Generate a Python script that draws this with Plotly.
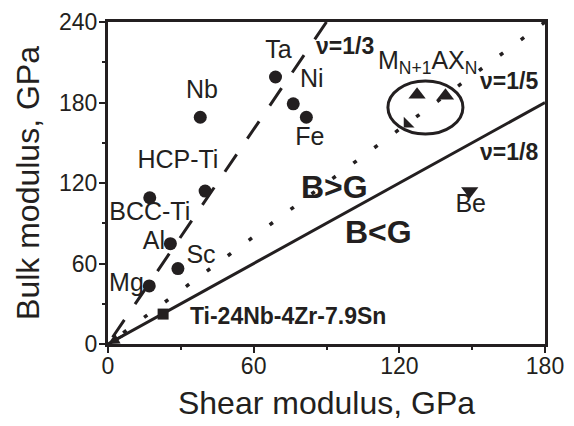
import plotly.graph_objects as go

# ---- data ----
elements = ["Mg", "Al", "Sc", "BCC-Ti", "HCP-Ti", "Nb", "Ta", "Ni", "Fe"]
shear_el = [17, 25.7, 28.8, 17.2, 40, 38, 69, 76.3, 81.7]
bulk_el = [43.3, 74.8, 56.2, 109, 114, 169, 199, 179, 169]

be_shear = [149]
be_bulk = [114]

alloy_name = "Ti-24Nb-4Zr-7.9Sn"
alloy_shear = [22.7]
alloy_bulk = [22.3]

max_shear = [127.3, 139, 123.3]
max_bulk = [185.7, 185, 164]

poisson = [1/3, 1/5, 1/8]
poisson_labels = ["ν=1/3", "ν=1/5", "ν=1/8"]

x_ticks = [0, 60, 120, 180]
y_ticks = [0, 60, 120, 180, 240]

# label anchor positions (data coords)
el_label_x = [7.6, 18.9, 38.3, 17.2, 28.8, 38.7, 70.2, 83.9, 83.1]
el_label_y = [44.4, 75.2, 64.9, 97.1, 136, 187.8, 218, 196.1, 152.8]

INK = "#231f20"
FONT = "Liberation Sans, Arial, sans-serif"
XMAX, YMAX = 180, 240

fig = go.Figure()

# Poisson-ratio lines B/G = 2(1+v)/(3(1-2v))
styles = [dict(dash="21px,19px", width=3), dict(dash="4px,22px", width=3.5), dict(dash="solid", width=3)]
for nu, st in zip(poisson, styles):
    r = 2 * (1 + nu) / (3 * (1 - 2 * nu))
    xe = min(XMAX, YMAX / r)
    fig.add_trace(go.Scatter(x=[xe, 0], y=[xe * r, 0], mode="lines",
                             line=dict(color=INK, width=st["width"], dash=st["dash"]),
                             hoverinfo="skip", showlegend=False))

# arrowhead at origin
fig.add_annotation(x=0, y=0, ax=7, ay=7, axref="x", ayref="y", xref="x", yref="y",
                   text="", showarrow=True, arrowhead=2, arrowsize=0.9, arrowwidth=2.5,
                   arrowcolor=INK, standoff=0)

# elements
fig.add_trace(go.Scatter(x=shear_el, y=bulk_el, mode="markers",
                         marker=dict(symbol="circle", size=13, color=INK),
                         showlegend=False))
fig.add_trace(go.Scatter(x=el_label_x, y=el_label_y, mode="text", text=elements,
                         textposition="middle center",
                         textfont=dict(family=FONT, size=25, color=INK),
                         hoverinfo="skip", showlegend=False))

# Be
fig.add_trace(go.Scatter(x=be_shear, y=be_bulk, mode="markers",
                         marker=dict(symbol="triangle-down", size=15, color=INK),
                         showlegend=False))
fig.add_trace(go.Scatter(x=[149.4], y=[103.3], mode="text", text=["Be"],
                         textfont=dict(family=FONT, size=25, color=INK),
                         hoverinfo="skip", showlegend=False))

# alloy
fig.add_trace(go.Scatter(x=alloy_shear, y=alloy_bulk, mode="markers",
                         marker=dict(symbol="square", size=11, color=INK),
                         showlegend=False))
fig.add_trace(go.Scatter(x=[74.2], y=[19.1], mode="text", text=["<b>" + alloy_name + "</b>"],
                         textfont=dict(family=FONT, size=23, color=INK),
                         hoverinfo="skip", showlegend=False))

# MAX phases
fig.add_trace(go.Scatter(x=max_shear[:2], y=max_bulk[:2], mode="markers",
                         marker=dict(symbol="triangle-up", size=15, color=INK),
                         showlegend=False))
fig.add_trace(go.Scatter(x=max_shear[2:], y=max_bulk[2:], mode="markers",
                         marker=dict(symbol="triangle-sw", size=12, color=INK),
                         showlegend=False))
fig.add_shape(type="circle", xref="x", yref="y", x0=115.3, x1=146.2, y0=156.5, y1=196,
              line=dict(color=INK, width=3))
fig.add_annotation(x=131.5, y=210, text="M<sub>N+1</sub>AX<sub>N</sub>", showarrow=False,
                   font=dict(family=FONT, size=25, color=INK), yanchor="middle")

# Poisson labels
for txt, px, py in zip(poisson_labels, [97.5, 165, 165], [221.9, 196, 143]):
    fig.add_annotation(x=px, y=py, text="<b>" + txt + "</b>", showarrow=False,
                       font=dict(family=FONT, size=23, color=INK))

fig.add_annotation(x=93.4, y=116.9, text="<b>B>G</b>", showarrow=False,
                   font=dict(family=FONT, size=32, color=INK))
fig.add_annotation(x=111.5, y=83.7, text="<b>B<G</b>", showarrow=False,
                   font=dict(family=FONT, size=32, color=INK))

axis_common = dict(showline=True, linewidth=3, linecolor=INK, mirror=True,
                   showgrid=False, zeroline=False, ticks="outside", ticklen=6,
                   tickwidth=2, tickcolor=INK,
                   tickfont=dict(family=FONT, size=23, color=INK),
                   minor=dict(ticks="outside", ticklen=3, tickwidth=2, tickcolor=INK, dtick=30))

fig.update_xaxes(range=[0, XMAX], tickvals=x_ticks, ticktext=[str(v) for v in x_ticks],
                 ticklabelstandoff=-7,
                 title=dict(text="Shear modulus, GPa", font=dict(family=FONT, size=32, color=INK), standoff=15),
                 **axis_common)
fig.update_yaxes(range=[0, YMAX], tickvals=y_ticks, ticktext=[str(v) for v in y_ticks],
                 ticklabelstandoff=-3,
                 title=dict(text="Bulk modulus, GPa", font=dict(family=FONT, size=32, color=INK), standoff=10),
                 **axis_common)

fig.update_layout(width=574, height=426, margin=dict(l=108, r=29, t=22, b=82, autoexpand=False),
                  plot_bgcolor="white", paper_bgcolor="white", showlegend=False)

fig.write_html("out.html", config={"displayModeBar": False},
               post_script="document.body.style.margin='0px';document.body.style.overflow='hidden';")
